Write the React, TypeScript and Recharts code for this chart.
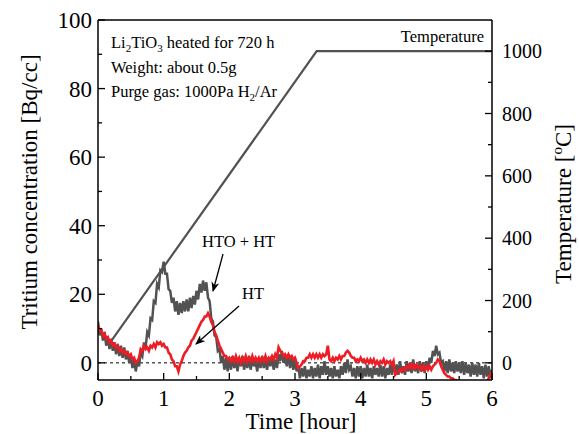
import { ComposedChart, Line, XAxis, YAxis, ReferenceLine } from 'recharts'

const SERIF = '"Liberation Serif"'

// sample times [hour], 0.025 h apart
const time = [
  0, 0.025, 0.05, 0.075, 0.1, 0.125, 0.15, 0.175, 0.2, 0.225, 0.25, 0.275, 0.3, 0.325, 0.35, 0.375, 0.4, 0.425, 0.45, 0.475,
  0.5, 0.525, 0.55, 0.575, 0.6, 0.625, 0.65, 0.675, 0.7, 0.725, 0.75, 0.775, 0.8, 0.825, 0.85, 0.875, 0.9, 0.925, 0.95, 0.975,
  1, 1.025, 1.05, 1.075, 1.1, 1.125, 1.15, 1.175, 1.2, 1.225, 1.25, 1.275, 1.3, 1.325, 1.35, 1.375, 1.4, 1.425, 1.45, 1.475,
  1.5, 1.525, 1.55, 1.575, 1.6, 1.625, 1.65, 1.675, 1.7, 1.725, 1.75, 1.775, 1.8, 1.825, 1.85, 1.875, 1.9, 1.925, 1.95, 1.975,
  2, 2.025, 2.05, 2.075, 2.1, 2.125, 2.15, 2.175, 2.2, 2.225, 2.25, 2.275, 2.3, 2.325, 2.35, 2.375, 2.4, 2.425, 2.45, 2.475,
  2.5, 2.525, 2.55, 2.575, 2.6, 2.625, 2.65, 2.675, 2.7, 2.725, 2.75, 2.775, 2.8, 2.825, 2.85, 2.875, 2.9, 2.925, 2.95, 2.975,
  3, 3.025, 3.05, 3.075, 3.1, 3.125, 3.15, 3.175, 3.2, 3.225, 3.25, 3.275, 3.3, 3.325, 3.35, 3.375, 3.4, 3.425, 3.45, 3.475,
  3.5, 3.525, 3.55, 3.575, 3.6, 3.625, 3.65, 3.675, 3.7, 3.725, 3.75, 3.775, 3.8, 3.825, 3.85, 3.875, 3.9, 3.925, 3.95, 3.975,
  4, 4.025, 4.05, 4.075, 4.1, 4.125, 4.15, 4.175, 4.2, 4.225, 4.25, 4.275, 4.3, 4.325, 4.35, 4.375, 4.4, 4.425, 4.45, 4.475,
  4.5, 4.525, 4.55, 4.575, 4.6, 4.625, 4.65, 4.675, 4.7, 4.725, 4.75, 4.775, 4.8, 4.825, 4.85, 4.875, 4.9, 4.925, 4.95, 4.975,
  5, 5.025, 5.05, 5.075, 5.1, 5.125, 5.15, 5.175, 5.2, 5.225, 5.25, 5.275, 5.3, 5.325, 5.35, 5.375, 5.4, 5.425, 5.45, 5.475,
  5.5, 5.525, 5.55, 5.575, 5.6, 5.625, 5.65, 5.675, 5.7, 5.725, 5.75, 5.775, 5.8, 5.825, 5.85, 5.875, 5.9, 5.925, 5.95, 5.975,
  6,
]

// HTO + HT [Bq/cc]
const htoHt = [
  12, 8, 10, 6.5, 9, 5, 7.5, 4, 7, 3.5, 6, 2.5, 5.5, 2, 5, 1.5, 4.5, 1, 3.5, 0,
  2, -1.5, 1, -2.5, 0.5, -1, 3, 2, 6, 4.5, 9, 8, 13, 12.5, 18, 17.5, 23, 22, 27, 26.5,
  29.5, 26, 26, 21.5, 21, 17.5, 19, 15, 18, 14, 17.5, 14.5, 18, 15, 18.5, 15, 19, 16, 19.5, 17,
  21, 18.5, 23, 20.5, 24, 21, 23.5, 19, 18, 13, 12, 8, 7.5, 3.5, 4, 0, 2, -2, 1.5, -2.5,
  1.5, -2, 2, -1.5, 1, -2.5, 1.5, -1, 2, -2, 1, -1.5, 2, -2, 1.5, -1, 0.5, -2.5, 1.5, -1.5,
  2, -1.5, 1, -2, 1.5, -1, 2, -2, 1, -1.5, 2.5, 0.5, 3.5, 0, 2, -1, 2.5, -1.5, 1.5, -2,
  1, -2.5, -1, -4.5, -1.5, -4, -1, -4.5, -2, -4, -1, -4.5, -1.5, -4, -0.5, -4.5, -1, -3.5, 0.5, -3.5,
  -1, -4, -1.5, -4.5, -1, -4, -2, -4.5, -1, -3.5, 0, -3, 1, -2, -1, -4, -1.5, -4.5, -1, -4,
  -1, -4.5, -1.5, -4, -0.5, -4, -1.5, -4.5, -1, -3.5, -1.5, -4, -0.5, -4, -1, -4.5, -1.5, -3.5, -0.5, -3.5,
  0, -3, -0.5, -3.5, 0.5, -3, -1, -3.5, 0.5, -2.5, 0, -3, 1, -2.5, -0.5, -3, 0.5, -2.5, 0, -3,
  0.5, -2, 1.5, 0, 3.5, 2, 5, 2.5, 3, 0, 0.5, -2.5, 0.5, -3, 1, -2.5, 0, -3, 0.5, -2.5,
  0, -3, 0.5, -3.5, 0, -3, -0.5, -4, 0, -3.5, -0.5, -4, 0, -3.5, -1, -4.5, -0.5, -4, -1, -4.5,
  -2,
]

// HT [Bq/cc]
const ht = [
  11, 9.5, 9.5, 8, 8.5, 7, 7.5, 6, 6.5, 5, 5.5, 4.5, 5, 3.5, 4, 3, 3.5, 2.5, 3, 2,
  2.5, 1, 1.5, 0, 0.5, 1.5, 4, 3.5, 5, 4, 4.5, 3.5, 5, 4.5, 5.5, 4.5, 6, 5.5, 6, 5,
  5.5, 4.5, 4.5, 3, 2.5, 1, 0.5, -1, -1, -2.5, -0.5, 0.5, 2, 3, 3.5, 4.5, 5, 6.5, 7, 8,
  9, 10, 11, 12, 12.5, 13.5, 13.5, 14.5, 13.5, 12, 11, 9, 8, 6.5, 5, 4, 3, 2, 2, 1,
  1.5, 0.5, 1.5, 0.5, 2, 0.5, 1.5, 0, 1.5, 0.5, 2, 0.5, 1.5, 0.5, 2, 0.5, 1.5, 0.5, 1.5, 0.5,
  1.5, 0.5, 2, 0.5, 1.5, 1, 2, 1, 2.5, 1.5, 4.5, 3.5, 3, 2, 2.5, 1.5, 2.5, 1.5, 2, 1,
  1.5, 0, -1.5, -1, -0.5, 0.5, 0.5, 1.5, 1.5, 2.5, 1.5, 2.5, 1.5, 2.5, 1.5, 2.5, 1.5, 2.5, 2, 2.5,
  5, 1, 0.5, 1.5, 0.5, 1.5, 1, 2, 1, 2, 2, 3, 3.5, 3, 2, 1.5, 1.5, 0.5, 1, 0.5,
  1.5, 0.5, 1, 0, 1, 0, 1, 0, 1, -0.5, 0.5, -0.5, 0.5, 0, 1, -0.5, 0.5, 0, 0.5, -0.5,
  0.5, -3.5, -3, -2.5, -2, -2.5, -1.5, -2, -1, -1.5, -0.5, -1.5, -0.5, -1.5, -0.5, -1.5, -1, -2, -1, -2,
  -1, -2, -1, -2, -1, -0.5, 0, 1, 0.5, -1, -2, -3, -3.5, -4, -4, -4.5, -4.5, -5, -5, -5.5,
  -5.5, -5.5, -5.5, -5.5, -5.5, -5.5, -5.5, -5.5, -5.5, -5.5, -5.5, -5.5, -5.5, -5.5, -5.5, -5.5, -5.5, -5.5, -4.5, -3.5,
  -2.5,
]

// temperature program
const tempTime = [0.2, 3.33, 6]
const tempValue = [70, 1000, 1000]

const xTicks = [0, 0.5, 1, 1.5, 2, 2.5, 3, 3.5, 4, 4.5, 5, 5.5, 6]
const leftTicks = [0, 10, 20, 30, 40, 50, 60, 70, 80, 90, 100]
const rightTicks = [0, 100, 200, 300, 400, 500, 600, 700, 800, 900, 1000]

const data = time.map((x, i) => ({ x, total: htoHt[i], ht: ht[i] }))
const tempData = tempTime.map((x, i) => ({ x, temp: tempValue[i] }))

const GRAY = '#525252'
const RED = '#ee1c24'
const serif = { fontFamily: SERIF }

function BottomTick(props: any) {
  const { x, y, payload } = props
  const v = payload.value
  const major = v % 1 === 0
  return (
    <g>
      <line x1={x} x2={x} y1={y} y2={y - (major ? 7 : 4)} stroke="#000" strokeWidth={1.3} />
      {major && (
        <text x={x} y={y + 26} textAnchor="middle" fontSize={23} style={serif} fill="#000">{v}</text>
      )}
    </g>
  )
}

function LeftTick(props: any) {
  const { x, y, payload } = props
  const v = payload.value
  const major = v % 20 === 0
  return (
    <g>
      <line x1={x} x2={x + (major ? 7 : 4)} y1={y} y2={y} stroke="#000" strokeWidth={1.3} />
      {major && (
        <text x={x - 6} y={y} dy="0.35em" textAnchor="end" fontSize={23} style={serif} fill="#000">{v}</text>
      )}
    </g>
  )
}

function RightTick(props: any) {
  const { x, y, payload } = props
  const v = payload.value
  const major = v % 200 === 0
  return (
    <g>
      <line x1={x} x2={x - (major ? 7 : 4)} y1={y} y2={y} stroke="#000" strokeWidth={1.3} />
      {major && (
        <text x={x + 10} y={y} dy="0.35em" textAnchor="start" fontSize={20} style={serif} fill="#000">{v}</text>
      )}
    </g>
  )
}

export default function App() {
  const axisLine = { stroke: '#000', strokeWidth: 1.5 }
  return (
    <div style={{ position: 'absolute', left: 0, top: 0, width: 579, height: 434, background: '#fff' }}>
      <ComposedChart width={579} height={434} data={data} margin={{ top: 20, right: 0, bottom: 0, left: 0 }}>
        <XAxis
          dataKey="x"
          type="number"
          domain={[0, 6]}
          ticks={xTicks}
          interval={0}
          allowDataOverflow
          height={54}
          tickSize={0}
          tickMargin={0}
          tickLine={false}
          axisLine={axisLine}
          tick={(p: any) => <BottomTick {...p} />}
        />
        <YAxis
          yAxisId="left"
          type="number"
          domain={[-5, 100]}
          ticks={leftTicks}
          interval={0}
          allowDataOverflow
          width={98}
          tickSize={0}
          tickMargin={0}
          tickLine={false}
          axisLine={axisLine}
          tick={(p: any) => <LeftTick {...p} />}
        />
        <YAxis
          yAxisId="right"
          orientation="right"
          type="number"
          domain={[-55, 1100]}
          ticks={rightTicks}
          interval={0}
          allowDataOverflow
          width={87}
          tickSize={0}
          tickMargin={0}
          tickLine={false}
          axisLine={axisLine}
          tick={(p: any) => <RightTick {...p} />}
        />
        <ReferenceLine yAxisId="left" y={0} stroke="#000" strokeWidth={1} strokeDasharray="3 3" />
        <ReferenceLine yAxisId="left" y={100} stroke="#000" strokeWidth={1.5} />
        <Line
          yAxisId="right"
          data={tempData}
          dataKey="temp"
          stroke={GRAY}
          strokeWidth={2.2}
          dot={false}
          isAnimationActive={false}
        />
        <Line
          yAxisId="left"
          dataKey="total"
          stroke={GRAY}
          strokeWidth={2.5}
          dot={false}
          isAnimationActive={false}
        />
        <Line
          yAxisId="left"
          dataKey="ht"
          stroke={RED}
          strokeWidth={2.6}
          dot={false}
          isAnimationActive={false}
        />
      </ComposedChart>
      <svg width={579} height={434} style={{ position: 'absolute', left: 0, top: 0, pointerEvents: 'none' }}>
        <defs>
          <marker id="ah" markerWidth="10" markerHeight="8" refX="9" refY="4" orient="auto" markerUnits="userSpaceOnUse">
            <path d="M0,0 L10,4 L0,8 L3,4 z" fill="#000" />
          </marker>
        </defs>
        <text x={111} y={48} fontSize={16.5} style={serif}>
          Li<tspan dy={4} fontSize={11}>2</tspan>
          <tspan dy={-4}>TiO</tspan>
          <tspan dy={4} fontSize={11}>3</tspan>
          <tspan dy={-4}> heated for 720 h</tspan>
        </text>
        <text x={111} y={73} fontSize={16.5} style={serif}>Weight: about 0.5g</text>
        <text x={111} y={97} fontSize={16.5} style={serif}>
          Purge gas: 1000Pa H<tspan dy={4} fontSize={11}>2</tspan>
          <tspan dy={-4}>/Ar</tspan>
        </text>
        <text x={484} y={42} fontSize={16.5} textAnchor="end" style={serif}>Temperature</text>
        <text x={202} y={247} fontSize={16.5} style={serif}>HTO + HT</text>
        <text x={242} y={299} fontSize={16.5} style={serif}>HT</text>
        <line x1={223} y1={254} x2={213} y2={291} stroke="#000" strokeWidth={1.3} markerEnd="url(#ah)" />
        <line x1={239} y1={306} x2={196} y2={344} stroke="#000" strokeWidth={1.3} markerEnd="url(#ah)" />
        <text x={301} y={429} fontSize={23} textAnchor="middle" style={serif}>Time [hour]</text>
        <text x={37} y={192} fontSize={23} textAnchor="middle" transform="rotate(-90 37 192)" style={serif}>
          Tritium concentration [Bq/cc]
        </text>
        <text x={571} y={204} fontSize={23} textAnchor="middle" transform="rotate(-90 571 204)" style={serif}>
          Temperature [<tspan dy={-9} fontSize={15}>o</tspan>
          <tspan dy={9}>C]</tspan>
        </text>
      </svg>
    </div>
  )
}
